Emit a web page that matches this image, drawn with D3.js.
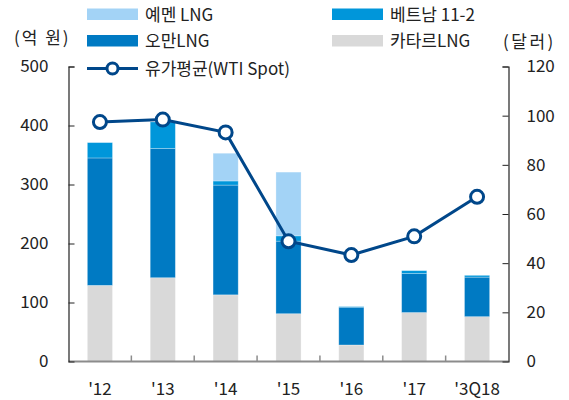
<!DOCTYPE html>
<html>
<head>
<meta charset="utf-8">
<script src="https://cdn.jsdelivr.net/npm/d3@7/dist/d3.min.js"></script>
<style>
  html, body { margin: 0; padding: 0; background: #fff; }
  svg { display: block; }
  text { font-family: "Noto Sans CJK KR", "Noto Sans", sans-serif; fill: #222; }
</style>
</head>
<body>
<svg id="chart" width="569" height="400"></svg>
<script>
const categories = ["'12", "'13", "'14", "'15", "'16", "'17", "'3Q18"];
const qatarLNG   = [129, 142, 113, 81, 28, 83, 76];
const omanLNG    = [216, 219, 186, 123, 64, 66, 67];
const vietnam112 = [26, 45, 7, 9, 1, 5, 3];
const yemenLNG   = [0, 0, 47, 108, 0, 0, 0];
const wtiAvg     = [97.4, 98.4, 93.2, 48.9, 43.3, 50.9, 67.0];
const leftTicks  = [0, 100, 200, 300, 400, 500];
const rightTicks = [0, 20, 40, 60, 80, 100, 120];

const seriesKeys = ["qatar", "oman", "vietnam", "yemen"];
const seriesNames = { yemen: "예멘 LNG", vietnam: "베트남 11-2", oman: "오만LNG", qatar: "카타르LNG" };
const colors = { yemen: "#A3D3F6", vietnam: "#0096DA", oman: "#007AC3", qatar: "#D9D9D9" };
const lineColor = "#00478A";

const table = categories.map((c, i) => ({
  cat: c, qatar: qatarLNG[i], oman: omanLNG[i], vietnam: vietnam112[i], yemen: yemenLNG[i], wti: wtiAvg[i]
}));

const svg = d3.select("#chart");
const L = 68.5, R = 508.5, T = 66.5, B = 361.5;

const x = d3.scaleBand().domain(categories).range([L, R]).paddingInner(0.6).paddingOuter(0.3);
const yL = d3.scaleLinear().domain([0, 500]).range([B, T]);
const yR = d3.scaleLinear().domain([0, 120]).range([B, T]);

const stack = d3.stack().keys(seriesKeys)(table);

// bars
svg.append("g").selectAll("g").data(stack).join("g")
  .attr("fill", d => colors[d.key])
  .selectAll("rect").data(d => d).join("rect")
  .attr("x", d => x(d.data.cat))
  .attr("width", x.bandwidth())
  .attr("y", d => yL(d[1]))
  .attr("height", d => Math.max(0, yL(d[0]) - yL(d[1])))
  .attr("stroke", "#fff").attr("stroke-opacity", 0.35).attr("stroke-width", 0.8);

// x axis
const xAxis = svg.append("g").attr("transform", `translate(0,${B})`)
  .call(d3.axisBottom(x).tickSize(0).tickPadding(21));
xAxis.select(".domain").remove();
xAxis.selectAll("text").attr("font-size", 17).style("font-family", "'Noto Sans CJK KR', sans-serif").attr("fill", "#222");

// x baseline and boundary ticks
const bx = d3.range(1, categories.length).map(i => L + x.step() * i);
svg.append("line").attr("x1", L).attr("x2", R).attr("y1", B).attr("y2", B)
  .attr("stroke", "#8c8c8c").attr("stroke-width", 2);
svg.append("g").selectAll("line").data(bx).join("line")
  .attr("x1", d => d).attr("x2", d => d).attr("y1", B).attr("y2", B - 6)
  .attr("stroke", "#8c8c8c").attr("stroke-width", 1.5);

// left axis
const gL = svg.append("g").attr("transform", `translate(${L},0)`)
  .call(d3.axisLeft(yL).tickValues(leftTicks).tickSizeInner(-6).tickSizeOuter(-6).tickPadding(20));
gL.select(".domain").attr("stroke", "#222").attr("stroke-width", 1.2);
gL.selectAll(".tick line").attr("stroke", "#222");
gL.selectAll(".tick").filter(d => d === 0).select("line").remove();
gL.selectAll("text").attr("font-size", 17).style("font-family", "'Noto Sans CJK KR', sans-serif").attr("fill", "#222");

// right axis
const gR = svg.append("g").attr("transform", `translate(${R},0)`)
  .call(d3.axisRight(yR).tickValues(rightTicks).tickSizeInner(-6).tickSizeOuter(-6).tickPadding(18));
gR.select(".domain").attr("stroke", "#222").attr("stroke-width", 1.2);
gR.selectAll(".tick line").attr("stroke", "#222");
gR.selectAll(".tick").filter(d => d === 0).select("line").remove();
gR.selectAll("text").attr("font-size", 17).style("font-family", "'Noto Sans CJK KR', sans-serif").attr("fill", "#222");

// line
const line = d3.line().x(d => x(d.cat) + x.bandwidth() / 2).y(d => yR(d.wti));
svg.append("path").datum(table).attr("d", line)
  .attr("fill", "none").attr("stroke", lineColor).attr("stroke-width", 3);
svg.append("g").selectAll("circle").data(table).join("circle")
  .attr("cx", d => x(d.cat) + x.bandwidth() / 2).attr("cy", d => yR(d.wti)).attr("r", 6.5)
  .attr("fill", "#fff").attr("stroke", lineColor).attr("stroke-width", 3);

// axis titles
svg.append("text").attr("x", 14).attr("y", 44).attr("font-size", 17)
  .attr("letter-spacing", 2).text("(억 원)");
svg.append("text").attr("x", 503).attr("y", 48).attr("font-size", 17)
  .attr("letter-spacing", 2.5).text("(달러)");

// legend
const legendItems = [
  { key: "yemen", x: 87, y: 8.5 },
  { key: "vietnam", x: 332, y: 8.5 },
  { key: "oman", x: 87, y: 35 },
  { key: "qatar", x: 332, y: 35 }
];
const lg = svg.append("g");
legendItems.forEach(it => {
  lg.append("rect").attr("x", it.x).attr("y", it.y).attr("width", 51).attr("height", 11.5).attr("fill", colors[it.key]);
  lg.append("text").attr("x", it.x + 58).attr("y", it.y + 12).attr("font-size", 17).style("white-space", "pre").text(seriesNames[it.key]);
});
lg.append("line").attr("x1", 87).attr("x2", 138).attr("y1", 68.5).attr("y2", 68.5)
  .attr("stroke", lineColor).attr("stroke-width", 3);
lg.append("circle").attr("cx", 112.5).attr("cy", 68.5).attr("r", 5.5)
  .attr("fill", "#fff").attr("stroke", lineColor).attr("stroke-width", 3);
lg.append("text").attr("x", 145).attr("y", 74.5).attr("font-size", 17).text("유가평균(WTI Spot)");
</script>
</body>
</html>
